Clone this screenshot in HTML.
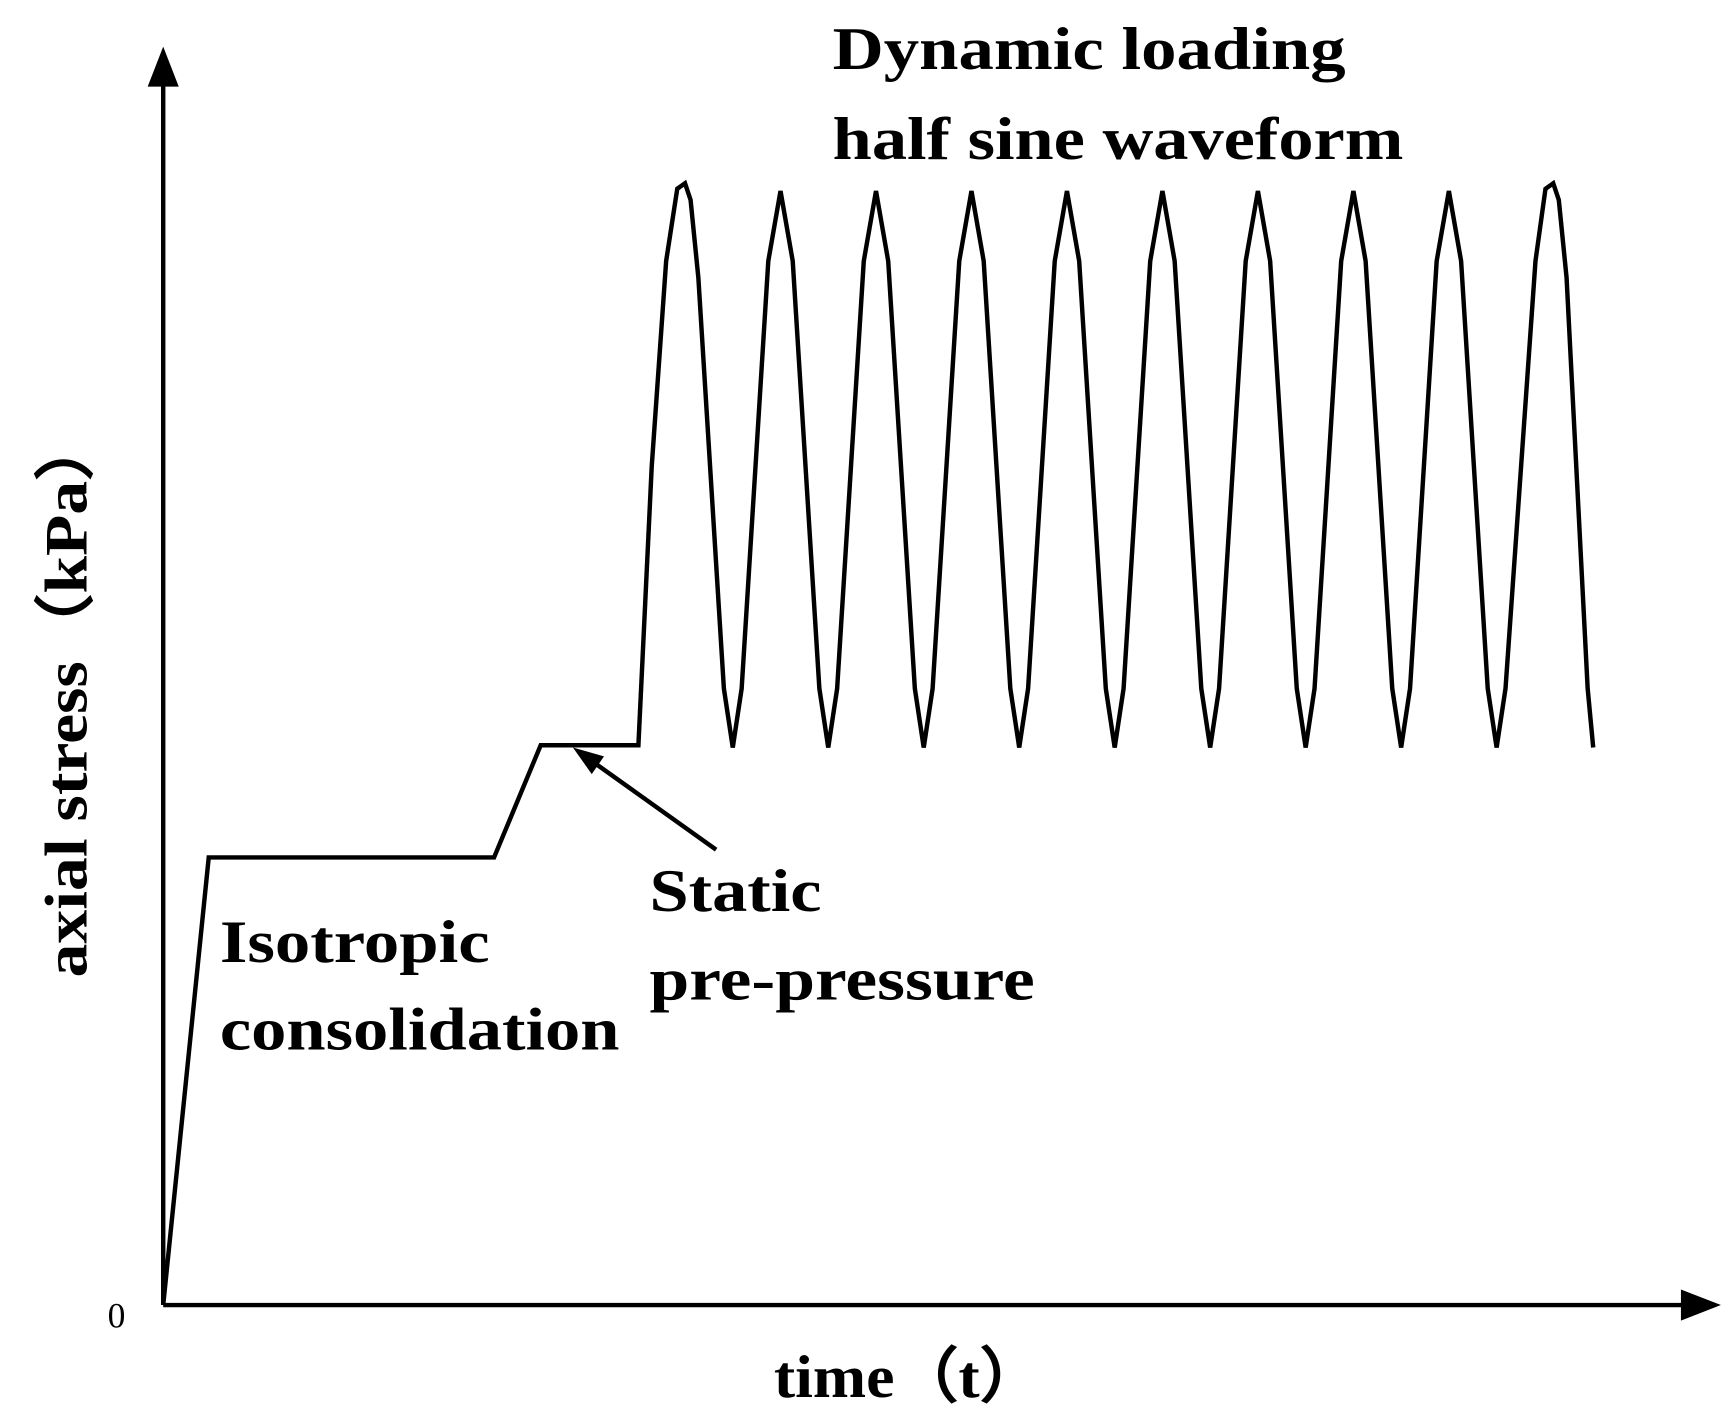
<!DOCTYPE html>
<html><head><style>html,body{margin:0;padding:0;background:#fff;}svg{display:block}</style></head>
<body>
<svg width="1732" height="1425" viewBox="0 0 1560 1283" preserveAspectRatio="none" xmlns="http://www.w3.org/2000/svg">
<g stroke="#000" stroke-width="4" fill="none">
<line x1="147" y1="1175" x2="147" y2="70"/>
<line x1="147" y1="1175" x2="1520" y2="1175"/>
<polyline stroke-linejoin="miter" points="147,1175 188,772 445,772 487,671 575,671 587,420 600,235 610,170 617,165 622,180 629,250 652,620 660,673 668,620
692,235 703,172 714,235 738,620 746,673 754,620
778,235 789,172 800,235 824,620 832,673 840,620
864,235 875,172 886,235 910,620 918,673 926,620
950,235 961,172 972,235 996,620 1004,673 1012,620
1036,235 1047,172 1058,235 1082,620 1090,673 1098,620
1122,235 1133,172 1144,235 1168,620 1176,673 1184,620
1208,235 1219,172 1230,235 1254,620 1262,673 1270,620
1294,235 1305,172 1316,235 1340,620 1348,673 1356,620
1383,235 1392,170 1399,165 1404,180 1411,250 1430,620 1435,673"/>
<line x1="645" y1="765" x2="530" y2="683"/>
</g>
<polygon points="147,42 133,78 161,78" fill="#000"/>
<polygon points="1550,1175 1514,1161 1514,1189" fill="#000"/>
<polygon points="516,673 544,681 533,697" fill="#000"/>
<g font-family="'Liberation Serif', serif" font-weight="bold" font-size="54" fill="#000">
<text x="750" y="62" textLength="462" lengthAdjust="spacingAndGlyphs">Dynamic loading</text>
<text x="750" y="143" textLength="514" lengthAdjust="spacingAndGlyphs">half sine waveform</text>
<text x="198" y="866" textLength="243" lengthAdjust="spacingAndGlyphs">Isotropic</text>
<text x="198" y="945" textLength="360" lengthAdjust="spacingAndGlyphs">consolidation</text>
<text x="585" y="820" textLength="155" lengthAdjust="spacingAndGlyphs">Static</text>
<text x="585" y="900" textLength="347" lengthAdjust="spacingAndGlyphs">pre-pressure</text>
<text x="697" y="1258" textLength="243" lengthAdjust="spacingAndGlyphs">time（t）</text>
<text transform="translate(78,880) rotate(-90)" x="0" y="0" textLength="508" lengthAdjust="spacingAndGlyphs">axial stress（kPa）</text>
</g>
<text x="97" y="1195" font-family="'Liberation Serif', serif" font-size="32" fill="#000">0</text>
</svg>
</body></html>
